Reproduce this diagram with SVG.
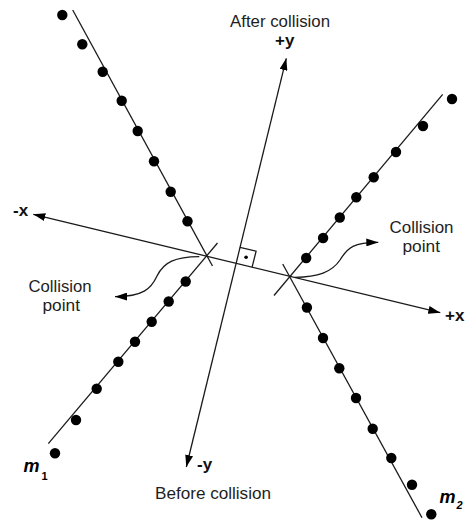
<svg xmlns="http://www.w3.org/2000/svg" width="465" height="522" viewBox="0 0 465 522">
<style>
  .ln { stroke:#1a1a1a; stroke-width:1.3; fill:none; }
  .ax { stroke:#1a1a1a; stroke-width:1.3; fill:none; marker-end:url(#arr); marker-start:url(#arr); }
  .cv { stroke:#1a1a1a; stroke-width:1.3; fill:none; marker-end:url(#arr); }
  .dot { fill:#000; }
  .t { font-family:"Liberation Sans", Arial, sans-serif; font-size:16px; fill:#1e1e1e; }
  .b { font-family:"Liberation Sans", Arial, sans-serif; font-size:17px; font-weight:bold; fill:#111; }
  .m { font-family:"Liberation Sans", Arial, sans-serif; font-size:18px; font-weight:bold; font-style:italic; fill:#000; }
  .s { font-family:"Liberation Sans", Arial, sans-serif; font-size:11px; font-weight:bold; fill:#000; }
</style>
<defs>
  <marker id="arr" viewBox="0 0 12 8" refX="12" refY="4" markerWidth="12" markerHeight="8" markerUnits="userSpaceOnUse" orient="auto-start-reverse">
    <path d="M0,0 L12,4 L0,8 z" fill="#000"/>
  </marker>
</defs>
<rect width="465" height="522" fill="#fff"/>

<g id="connectors">
  <!-- axes -->
  <line id="x-axis" class="ax" x1="33.3" y1="214.3" x2="440.3" y2="312.7"/>
  <line id="y-axis" class="ax" x1="186.3" y1="467" x2="286.3" y2="58.3"/>
  <!-- right angle -->
  <polyline class="ln" stroke-width="1.1" points="240.0,247.3 256.1,251.2 252.1,267.2"/>
  <circle cx="246.1" cy="257.2" r="1.8" class="dot"/>
  <!-- trajectories -->
  <line id="m1-after" class="ln" x1="72.7" y1="10" x2="212.5" y2="266"/>
  <line id="m1-before" class="ln" x1="48.3" y1="443.7" x2="217.5" y2="243"/>
  <line id="m2-after" class="ln" x1="442.7" y1="94.3" x2="274" y2="295.5"/>
  <line id="m2-before" class="ln" x1="422" y1="517.7" x2="282.7" y2="264"/>
  <!-- collision point pointers -->
  <path id="cp-left" class="cv" d="M199.3,256.7 C175,257 164,262 157,276 C151,289 143,296.5 115,296.7"/>
  <path id="cp-right" class="cv" d="M295,277.3 C318,277 332,272 340,260 C348,247 354,242.5 378.3,242.3"/>
</g>

<g id="m1-dots">
  <circle class="dot" cx="62.3" cy="15" r="5.2"/>
  <circle class="dot" cx="82.3" cy="44.3" r="5.2"/>
  <circle class="dot" cx="102.7" cy="71.7" r="5.2"/>
  <circle class="dot" cx="121.7" cy="100.7" r="5.2"/>
  <circle class="dot" cx="137.7" cy="131" r="5.2"/>
  <circle class="dot" cx="154" cy="161.3" r="5.2"/>
  <circle class="dot" cx="170.7" cy="191.7" r="5.2"/>
  <circle class="dot" cx="187.5" cy="221.3" r="5.2"/>
  <circle class="dot" cx="185.7" cy="281.5" r="5.2"/>
  <circle class="dot" cx="168.7" cy="301.5" r="5.2"/>
  <circle class="dot" cx="151.7" cy="321.7" r="5.2"/>
  <circle class="dot" cx="135" cy="341.7" r="5.2"/>
  <circle class="dot" cx="118.3" cy="361.7" r="5.2"/>
  <circle class="dot" cx="96.7" cy="388.7" r="5.2"/>
  <circle class="dot" cx="76" cy="420" r="5.2"/>
  <circle class="dot" cx="55" cy="453.3" r="5.2"/>
</g>

<g id="m2-dots">
  <circle class="dot" cx="452" cy="99" r="5.2"/>
  <circle class="dot" cx="423" cy="126" r="5.2"/>
  <circle class="dot" cx="396" cy="152" r="5.2"/>
  <circle class="dot" cx="373.7" cy="177.3" r="5.2"/>
  <circle class="dot" cx="356.3" cy="197.3" r="5.2"/>
  <circle class="dot" cx="339.8" cy="217.5" r="5.2"/>
  <circle class="dot" cx="323.1" cy="238" r="5.2"/>
  <circle class="dot" cx="306.2" cy="258" r="5.2"/>
  <circle class="dot" cx="306.9" cy="307.5" r="5.2"/>
  <circle class="dot" cx="323" cy="338" r="5.2"/>
  <circle class="dot" cx="339.3" cy="368.3" r="5.2"/>
  <circle class="dot" cx="356" cy="398" r="5.2"/>
  <circle class="dot" cx="372.7" cy="428.7" r="5.2"/>
  <circle class="dot" cx="391.3" cy="458" r="5.2"/>
  <circle class="dot" cx="412" cy="484.7" r="5.2"/>
  <circle class="dot" cx="431.3" cy="514.3" r="5.2"/>
</g>

<g id="labels">
  <text class="t" x="230" y="27" textLength="100" lengthAdjust="spacingAndGlyphs">After collision</text>
  <text class="b" x="275" y="45.5" font-size="16">+y</text>
  <text class="b" x="197" y="470">-y</text>
  <text class="t" x="155" y="499" textLength="116" lengthAdjust="spacingAndGlyphs">Before collision</text>
  <text class="b" x="13" y="216">-x</text>
  <text class="b" x="445" y="321">+x</text>
  <text class="t" x="28.5" y="292" textLength="63" lengthAdjust="spacingAndGlyphs">Collision</text>
  <text class="t" x="42.5" y="311" textLength="37.5" lengthAdjust="spacingAndGlyphs">point</text>
  <text class="t" x="389.5" y="233" textLength="64" lengthAdjust="spacingAndGlyphs">Collision</text>
  <text class="t" x="402.5" y="252" textLength="37.5" lengthAdjust="spacingAndGlyphs">point</text>
</g>

<g id="m1-label">
  <text class="m" x="23.5" y="472">m</text>
  <text class="s" x="41.5" y="480">1</text>
</g>
<g id="m2-label">
  <text class="m" x="439.5" y="503">m</text>
  <text class="s" x="456.5" y="508.5" font-style="italic">2</text>
</g>
</svg>
